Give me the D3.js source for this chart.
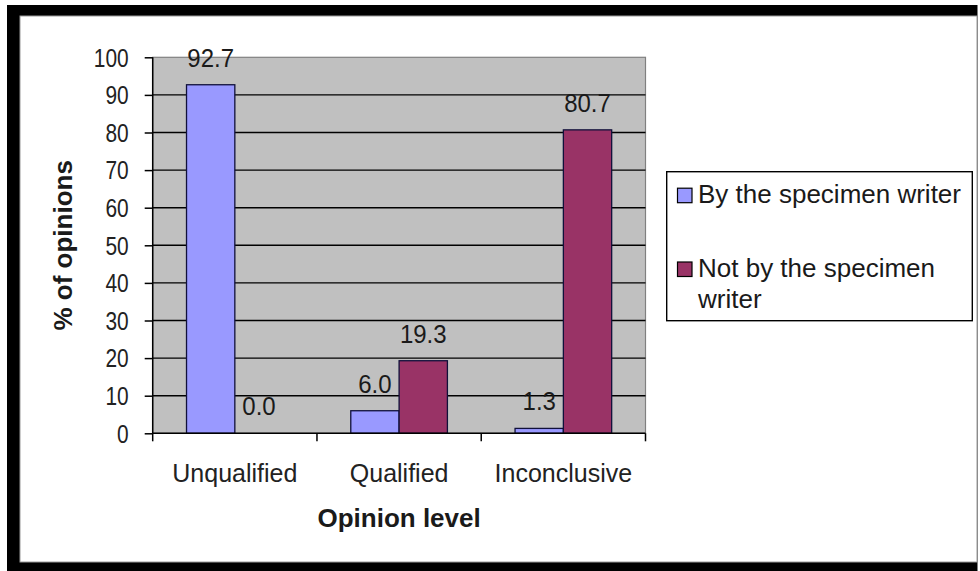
<!DOCTYPE html>
<html>
<head>
<meta charset="utf-8">
<script src="https://cdn.jsdelivr.net/npm/d3@7"></script>
<style>
  html, body { margin: 0; padding: 0; background: #ffffff; }
  svg { display: block; }
  text { font-family: "Liberation Sans", Arial, sans-serif; }
</style>
</head>
<body>
<svg id="chart" width="980" height="571"></svg>
<script>
// ---- data ----
const categories = ["Unqualified", "Qualified", "Inconclusive"];
const seriesNames = ["By the specimen writer", "Not by the specimen writer"];
const byWriter = [92.7, 6.0, 1.3];
const notByWriter = [0.0, 19.3, 80.7];
const yTicks = [0, 10, 20, 30, 40, 50, 60, 70, 80, 90, 100];
const seriesColors = ["#9999FF", "#993366"];
const xTitle = "Opinion level";
const yTitle = "% of opinions";

const seriesValues = [byWriter, notByWriter];

const svg = d3.select("#chart");

// frame
svg.append("rect").attr("x", 7).attr("y", 5).attr("width", 970.5).attr("height", 570).attr("fill", "#000");
svg.append("rect").attr("x", 20).attr("y", 16).attr("width", 957).attr("height", 546)
  .attr("fill", "#fff").attr("stroke", "#9a9a9a").attr("stroke-width", 1);
svg.append("rect").attr("x", 978).attr("y", 0).attr("width", 2).attr("height", 571).attr("fill", "#fff");

const plot = { left: 152.7, right: 645.5, top: 57.3, bottom: 433.3 };

const y = d3.scaleLinear().domain([0, 100]).range([plot.bottom, plot.top]);
const x0 = d3.scaleBand().domain(categories).range([plot.left, plot.right]).paddingInner(0).paddingOuter(0);
const x1 = d3.scaleBand().domain(d3.range(seriesNames.length)).range([0, x0.bandwidth()]).paddingInner(0).paddingOuter(0.7);

// plot background
svg.append("rect")
  .attr("x", plot.left).attr("y", plot.top)
  .attr("width", plot.right - plot.left).attr("height", plot.bottom - plot.top)
  .attr("fill", "#C0C0C0").attr("stroke", "#808080").attr("stroke-width", 1.2);

// gridlines
svg.append("g").selectAll("line")
  .data(yTicks.filter(t => t > 0 && t < 100))
  .join("line")
  .attr("x1", plot.left).attr("x2", plot.right)
  .attr("y1", d => y(d)).attr("y2", d => y(d))
  .attr("stroke", "#000").attr("stroke-width", 1.4);

// bars
const barData = [];
categories.forEach((c, i) => {
  seriesValues.forEach((vals, s) => barData.push({ c, s, v: vals[i] }));
});

svg.append("g").selectAll("rect")
  .data(barData)
  .join("rect")
  .attr("x", d => x0(d.c) + x1(d.s))
  .attr("y", d => y(d.v))
  .attr("width", x1.bandwidth())
  .attr("height", d => y(0) - y(d.v))
  .attr("fill", d => seriesColors[d.s])
  .attr("stroke", "#10103a").attr("stroke-width", 1.3);

// data labels
svg.append("g").selectAll("text")
  .data(barData)
  .join("text")
  .attr("transform", d => `translate(${x0(d.c) + x1(d.s) + x1.bandwidth() / 2},${y(d.v) - 18}) scale(1,1.07)`)
  .attr("text-anchor", "middle")
  .attr("font-size", 24)
  .attr("fill", "#1a1a1a")
  .text(d => d.v.toFixed(1));

// y axis
const yAxis = d3.axisLeft(y).tickValues(yTicks).tickSize(8).tickPadding(16);
const gy = svg.append("g").attr("transform", `translate(${plot.left},0)`).call(yAxis);
gy.select(".domain").attr("stroke", "#000").attr("stroke-width", 1.5).attr("d", `M0,${plot.top}V${plot.bottom}`);
gy.selectAll(".tick line").attr("stroke", "#000").attr("stroke-width", 1.5);
gy.selectAll(".tick text")
  .attr("x", null).attr("dy", null)
  .attr("transform", "translate(-24,0) scale(0.95,1.14) translate(0,7.8)")
  .attr("font-size", 22).attr("fill", "#222")
  .attr("font-family", "'Liberation Sans', Arial, sans-serif");

// x axis
const gx = svg.append("g");
gx.append("line").attr("x1", plot.left).attr("x2", plot.right)
  .attr("y1", plot.bottom).attr("y2", plot.bottom)
  .attr("stroke", "#000").attr("stroke-width", 1.5);
const boundaries = categories.map(c => x0(c)).concat([x0(categories[categories.length - 1]) + x0.bandwidth()]);
gx.selectAll("line.tk").data(boundaries).join("line").attr("class", "tk")
  .attr("x1", d => d).attr("x2", d => d)
  .attr("y1", plot.bottom).attr("y2", plot.bottom + 8)
  .attr("stroke", "#000").attr("stroke-width", 1.5);
gx.selectAll("text").data(categories).join("text")
  .attr("transform", d => `translate(${x0(d) + x0.bandwidth() / 2},481.5) scale(1,1.05)`)
  .attr("text-anchor", "middle")
  .attr("font-size", 25)
  .attr("fill", "#222")
  .text(d => d);

// axis titles
svg.append("text")
  .attr("x", (plot.left + plot.right) / 2)
  .attr("y", 527)
  .attr("text-anchor", "middle")
  .attr("font-size", 26).attr("font-weight", "bold").attr("fill", "#1a1a1a")
  .text(xTitle);

svg.append("text")
  .attr("transform", `translate(71.5,${(plot.top + plot.bottom) / 2}) rotate(-90)`)
  .attr("text-anchor", "middle")
  .attr("font-size", 26).attr("font-weight", "bold").attr("fill", "#1a1a1a")
  .text(yTitle);

// legend
const lg = svg.append("g");
lg.append("rect").attr("x", 666.7).attr("y", 171.7).attr("width", 305.6).attr("height", 149)
  .attr("fill", "#fff").attr("stroke", "#000").attr("stroke-width", 1.4);

const legendLines = [["By the specimen writer"], ["Not by the specimen", "writer"]];
const legendY = [202.7, 276.5];
seriesNames.forEach((name, i) => {
  lg.append("rect").attr("x", 677.5).attr("y", legendY[i] - 14.5).attr("width", 14.5).attr("height", 14.5)
    .attr("fill", seriesColors[i]).attr("stroke", "#000").attr("stroke-width", 1.2);
  const t = lg.append("text").attr("x", 698).attr("y", legendY[i])
    .attr("font-size", 26).attr("fill", "#1a1a1a");
  legendLines[i].forEach((ln, j) => {
    t.append("tspan").attr("x", 698).attr("dy", j === 0 ? 0 : 31.7).text(ln);
  });
});
</script>
</body>
</html>
